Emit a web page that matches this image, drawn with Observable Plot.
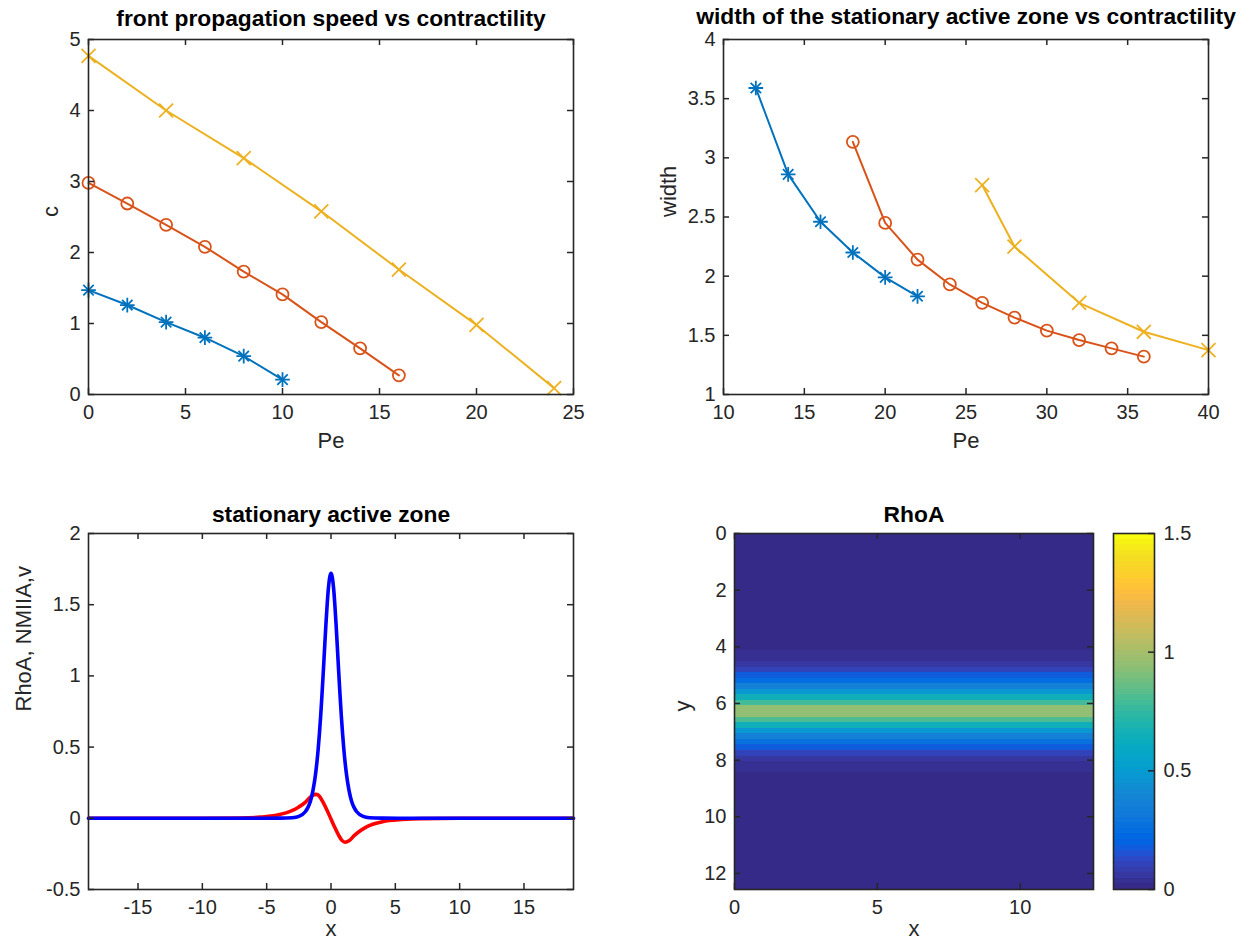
<!DOCTYPE html>
<html><head><meta charset="utf-8">
<script src="https://cdn.jsdelivr.net/npm/d3@7"></script>
<script src="https://cdn.jsdelivr.net/npm/@observablehq/plot@0.6"></script>
<style>
body{margin:0;background:#fff;}
#fig{position:relative;width:1250px;height:943px;background:#fff;overflow:hidden;}
</style></head><body><div id="fig"></div>
<script>
// ---------- data: front propagation speed ----------
const peSpeedBlue = [0, 2, 4, 6, 8, 10];
const cBlue = [1.47, 1.26, 1.02, 0.80, 0.54, 0.21];
const peSpeedOrange = [0, 2, 4, 6, 8, 10, 12, 14, 16];
const cOrange = [2.98, 2.69, 2.39, 2.08, 1.73, 1.41, 1.02, 0.65, 0.27];
const peSpeedYellow = [0, 4, 8, 12, 16, 20, 24];
const cYellow = [4.77, 4.00, 3.33, 2.58, 1.76, 0.98, 0.09];

// ---------- data: width of stationary zone ----------
const peWidthBlue = [12, 14, 16, 18, 20, 22];
const widthBlue = [3.59, 2.86, 2.46, 2.20, 1.99, 1.83];
const peWidthOrange = [18, 20, 22, 24, 26, 28, 30, 32, 34, 36];
const widthOrange = [3.135, 2.45, 2.14, 1.93, 1.775, 1.65, 1.54, 1.46, 1.39, 1.32];
const peWidthYellow = [26, 28, 32, 36, 40];
const widthYellow = [2.77, 2.25, 1.775, 1.53, 1.375];

// ---------- data: stationary active zone profiles ----------
const nmX = [-18.85,-10,-7,-5.5,-4.5,-4,-3.5,-3,-2.5,-2,-1.7,-1.45,-1.15,-0.9,-0.6,-0.3,0,0.3,0.6,0.85,1.1,1.4,1.8,2.3,2.8,3.3,4,4.5,5.5,7,10,18.85];
const nmY = [0,0,0.002,0.008,0.017,0.026,0.038,0.055,0.08,0.112,0.14,0.16,0.168,0.155,0.11,0.055,-0.005,-0.065,-0.12,-0.155,-0.168,-0.158,-0.122,-0.086,-0.058,-0.04,-0.024,-0.016,-0.008,-0.002,0,0];
const rhoX = [-18.85,-10,-6,-4,-3,-2.5,-2,-1.8,-1.6,-1.4,-1.2,-1,-0.9,-0.8,-0.7,-0.6,-0.5,-0.4,-0.3,-0.2,-0.1,0,0.1,0.2,0.3,0.4,0.5,0.6,0.7,0.8,0.9,1,1.2,1.4,1.6,1.8,2,2.5,3,4,6,10,18.85];
const rhoY = [0,0,0,0.001,0.004,0.013,0.046,0.075,0.12,0.196,0.311,0.482,0.594,0.722,0.868,1.026,1.191,1.353,1.499,1.617,1.693,1.72,1.693,1.617,1.499,1.353,1.191,1.026,0.868,0.722,0.594,0.482,0.311,0.196,0.12,0.075,0.046,0.013,0.004,0.001,0,0,0];

// ---------- data: RhoA field (64 rows, constant along x) ----------
const rhoFieldExtent = [0, 4 * Math.PI];
const rhoFieldRows = [
  0.01,0.01,0.01,0.01,0.01,0.01,0.01,0.01,0.01,0.01,0.01,0.01,0.01,0.01,0.01,0.01,0.01,0.01,0.01,0.01,0.01,
  0.025,0.045,0.07,0.11,0.18,0.25,0.36,0.47,0.65,0.79,0.95,0.95,0.80,0.65,0.48,0.37,0.26,0.18,0.11,0.07,0.045,0.025,
  0.01,0.01,0.01,0.01,0.01,0.01,0.01,0.01,0.01,0.01,0.01,0.01,0.01,0.01,0.01,0.01,0.01,0.01,0.01,0.01,0.01
];

// ---------- tick labels ----------
const speedXTicks = [0, 5, 10, 15, 20, 25];
const speedYTicks = [0, 1, 2, 3, 4, 5];
const widthXTicks = [10, 15, 20, 25, 30, 35, 40];
const widthYTicks = [1, 1.5, 2, 2.5, 3, 3.5, 4];
const zoneXTicks = [-15, -10, -5, 0, 5, 10, 15];
const zoneYTicks = [-0.5, 0, 0.5, 1, 1.5, 2];
const fieldXTicks = [0, 5, 10];
const fieldYTicks = [0, 2, 4, 6, 8, 10, 12];
const barTicks = [0, 0.5, 1, 1.5];

// ---------- parula colormap ----------
const parula = [[0.2081,0.1663,0.5292],[0.2116,0.1898,0.5777],[0.2123,0.2138,0.6270],[0.2081,0.2386,0.6771],[0.1959,0.2645,0.7279],[0.1707,0.2919,0.7792],[0.1253,0.3242,0.8303],[0.0591,0.3598,0.8683],[0.0117,0.3875,0.8820],[0.0060,0.4086,0.8828],[0.0165,0.4266,0.8786],[0.0329,0.4430,0.8720],[0.0498,0.4586,0.8641],[0.0629,0.4737,0.8554],[0.0723,0.4887,0.8467],[0.0779,0.5040,0.8384],[0.0793,0.5200,0.8312],[0.0749,0.5375,0.8263],[0.0641,0.5570,0.8240],[0.0488,0.5772,0.8228],[0.0343,0.5966,0.8199],[0.0265,0.6137,0.8135],[0.0239,0.6287,0.8038],[0.0231,0.6418,0.7913],[0.0228,0.6535,0.7768],[0.0267,0.6642,0.7607],[0.0384,0.6743,0.7436],[0.0590,0.6838,0.7254],[0.0843,0.6928,0.7062],[0.1133,0.7015,0.6859],[0.1453,0.7098,0.6646],[0.1801,0.7177,0.6424],[0.2178,0.7250,0.6193],[0.2586,0.7317,0.5954],[0.3022,0.7376,0.5712],[0.3482,0.7424,0.5473],[0.3953,0.7459,0.5244],[0.4420,0.7481,0.5033],[0.4871,0.7491,0.4840],[0.5300,0.7491,0.4661],[0.5709,0.7485,0.4494],[0.6099,0.7473,0.4337],[0.6473,0.7456,0.4188],[0.6834,0.7435,0.4044],[0.7184,0.7411,0.3905],[0.7525,0.7384,0.3768],[0.7858,0.7356,0.3633],[0.8185,0.7327,0.3498],[0.8507,0.7299,0.3360],[0.8824,0.7274,0.3217],[0.9139,0.7258,0.3063],[0.9450,0.7261,0.2886],[0.9739,0.7314,0.2666],[0.9938,0.7455,0.2403],[0.9990,0.7653,0.2164],[0.9955,0.7861,0.1967],[0.9880,0.8066,0.1794],[0.9789,0.8271,0.1633],[0.9697,0.8481,0.1475],[0.9626,0.8705,0.1309],[0.9589,0.8949,0.1132],[0.9598,0.9218,0.0948],[0.9661,0.9514,0.0755],[0.9763,0.9831,0.0538]];
const parulaInterp = t => {
  const i = Math.max(0, Math.min(63, Math.floor(t * 64)));
  const c = parula[i];
  return d3.rgb(c[0] * 255, c[1] * 255, c[2] * 255).formatHex();
};

// ---------- styling ----------
const FONT = '"Liberation Sans", Arial, Helvetica, sans-serif';
const AX = "#262626";
const C1 = "#0072BD", C2 = "#D95319", C3 = "#EDB120";
const TICK = 6;
const fig = document.getElementById("fig");

function zip(xs, ys) { return xs.map((x, i) => ({x, y: ys[i]})); }

function boxAxes(xt, yt, fw, fh) {
  const st = {stroke: AX, strokeWidth: 1.5};
  return [
    Plot.axisX(xt, {anchor: "bottom", tickSize: 0, tickPadding: 10, tickFormat: d => String(d), fill: AX, label: null, fontSize: 20}),
    Plot.axisY(yt, {anchor: "left", tickSize: 0, tickPadding: 8, tickFormat: d => String(d), fill: AX, label: null, fontSize: 20}),
    Plot.tickX(xt, {x: d => d, insetTop: fh - TICK, ...st}),
    Plot.tickX(xt, {x: d => d, insetBottom: fh - TICK, ...st}),
    Plot.tickY(yt, {y: d => d, insetRight: fw - TICK, ...st}),
    Plot.tickY(yt, {y: d => d, insetLeft: fw - TICK, ...st}),
    Plot.frame({stroke: AX, strokeWidth: 1.6})
  ];
}
function title(t, dy) {
  return Plot.text([t], {frameAnchor: "top", dy, fontSize: 22.8, fontWeight: "bold", fill: "#000", lineAnchor: "middle"});
}
function xlabel(t, dy) {
  return Plot.text([t], {frameAnchor: "bottom", dy, fontSize: 22, fill: AX, lineAnchor: "middle"});
}
function ylabel(t, dx) {
  return Plot.text([t], {frameAnchor: "left", dx, rotate: -90, fontSize: 22, fill: AX, lineAnchor: "middle"});
}
function place(svg, left, top) {
  svg.style.position = "absolute";
  svg.style.left = left + "px";
  svg.style.top = top + "px";
  fig.appendChild(svg);
}
const baseStyle = {background: "transparent", fontFamily: FONT, fontSize: "20px", color: AX, overflow: "visible"};

function markerSeries(data, color, kind) {
  const line = Plot.line(data, {x: "x", y: "y", stroke: color, strokeWidth: 2});
  if (kind === "star") return [line,
    Plot.dot(data, {x: "x", y: "y", symbol: "plus", r: 4.8, stroke: color, strokeWidth: 1.8}),
    Plot.dot(data, {x: "x", y: "y", symbol: "times", r: 4.8, stroke: color, strokeWidth: 1.8})];
  if (kind === "circle") return [line,
    Plot.dot(data, {x: "x", y: "y", symbol: "circle", r: 6, stroke: color, strokeWidth: 1.8, fill: "none"})];
  return [line, Plot.dot(data, {x: "x", y: "y", symbol: "times", r: 6.4, stroke: color, strokeWidth: 1.8})];
}

// ---------- panel 1 ----------
{
  const W = 625, H = 465, ml = 88, mr = 52, mt = 39, mb = 71;
  const p = Plot.plot({
    width: W, height: H, marginLeft: ml, marginRight: mr, marginTop: mt, marginBottom: mb,
    style: baseStyle,
    x: {domain: [0, 25], axis: null},
    y: {domain: [0, 5], axis: null},
    marks: [
      ...markerSeries(zip(peSpeedYellow, cYellow), C3, "x"),
      ...markerSeries(zip(peSpeedOrange, cOrange), C2, "circle"),
      ...markerSeries(zip(peSpeedBlue, cBlue), C1, "star"),
      ...boxAxes(speedXTicks, speedYTicks, W - ml - mr, H - mt - mb),
      title("front propagation speed vs contractility", -21),
      xlabel("Pe", 46),
      ylabel("c", -38)
    ]
  });
  place(p, 0, 0);
}

// ---------- panel 2 ----------
{
  const W = 625, H = 465, ml = 98, mr = 42, mt = 39, mb = 71;
  const p = Plot.plot({
    width: W, height: H, marginLeft: ml, marginRight: mr, marginTop: mt, marginBottom: mb,
    style: baseStyle,
    x: {domain: [10, 40], axis: null},
    y: {domain: [1, 4], axis: null},
    marks: [
      ...markerSeries(zip(peWidthBlue, widthBlue), C1, "star"),
      ...markerSeries(zip(peWidthOrange, widthOrange), C2, "circle"),
      ...markerSeries(zip(peWidthYellow, widthYellow), C3, "x"),
      ...boxAxes(widthXTicks, widthYTicks, W - ml - mr, H - mt - mb),
      title("width of the stationary active zone vs contractility", -23),
      xlabel("Pe", 46),
      ylabel("width", -55)
    ]
  });
  place(p, 625, 0);
}

// ---------- panel 3 ----------
{
  const W = 625, H = 478, ml = 88, mr = 52, mt = 68, mb = 54;
  const p = Plot.plot({
    width: W, height: H, marginLeft: ml, marginRight: mr, marginTop: mt, marginBottom: mb,
    style: baseStyle,
    x: {domain: [-6 * Math.PI, 6 * Math.PI], axis: null},
    y: {domain: [-0.5, 2], axis: null},
    marks: [
      Plot.line(zip(nmX, nmY), {x: "x", y: "y", stroke: "#ff0000", strokeWidth: 3.6, curve: "monotone-x"}),
      Plot.line(zip(rhoX, rhoY), {x: "x", y: "y", stroke: "#0000ff", strokeWidth: 3.6, curve: "monotone-x"}),
      ...boxAxes(zoneXTicks, zoneYTicks, W - ml - mr, H - mt - mb),
      title("stationary active zone", -19),
      xlabel("x", 39),
      ylabel("RhoA, NMIIA,v", -65)
    ]
  });
  place(p, 0, 465);
}

// ---------- panel 4: heatmap ----------
const colorScale = {type: "linear", domain: [0, 1.5], interpolate: parulaInterp};
{
  const W = 480, H = 478, ml = 109, mr = 12, mt = 68, mb = 54;
  const n = rhoFieldRows.length;
  const h = (rhoFieldExtent[1] - rhoFieldExtent[0]) / n;
  const rows = rhoFieldRows.map((v, i) => ({x1: rhoFieldExtent[0], x2: rhoFieldExtent[1], y1: i * h, y2: (i + 1) * h, v}));
  const p = Plot.plot({
    width: W, height: H, marginLeft: ml, marginRight: mr, marginTop: mt, marginBottom: mb,
    style: baseStyle,
    x: {domain: rhoFieldExtent, axis: null},
    y: {domain: rhoFieldExtent, reverse: true, axis: null},
    color: colorScale,
    marks: [
      Plot.rect(rows, {x1: "x1", x2: "x2", y1: "y1", y2: "y2", fill: "v", shapeRendering: "crispEdges"}),
      ...boxAxes(fieldXTicks, fieldYTicks, W - ml - mr, H - mt - mb),
      title("RhoA", -19),
      xlabel("x", 39),
      ylabel("y", -52)
    ]
  });
  place(p, 625, 465);
}

// ---------- colorbar ----------
{
  const W = 145, H = 478, ml = 9, mr = 95, mt = 68, mb = 54;
  const steps = d3.range(64).map(i => ({y1: i * 1.5 / 64, y2: (i + 1) * 1.5 / 64, v: (i + 0.5) * 1.5 / 64}));
  const p = Plot.plot({
    width: W, height: H, marginLeft: ml, marginRight: mr, marginTop: mt, marginBottom: mb,
    style: baseStyle,
    x: {domain: [0, 1], axis: null},
    y: {domain: [0, 1.5], axis: null},
    color: colorScale,
    marks: [
      Plot.rect(steps, {x1: 0, x2: 1, y1: "y1", y2: "y2", fill: "v", shapeRendering: "crispEdges"}),
      Plot.axisY(barTicks, {anchor: "right", tickSize: 0, tickPadding: 9, tickFormat: d => String(d), fill: AX, label: null, fontSize: 20}),
      Plot.tickY(barTicks, {y: d => d, insetLeft: (W - ml - mr) - TICK, stroke: AX, strokeWidth: 1.5}),
      Plot.frame({stroke: AX, strokeWidth: 1.6})
    ]
  });
  place(p, 1104, 465);
}
</script></body></html>
